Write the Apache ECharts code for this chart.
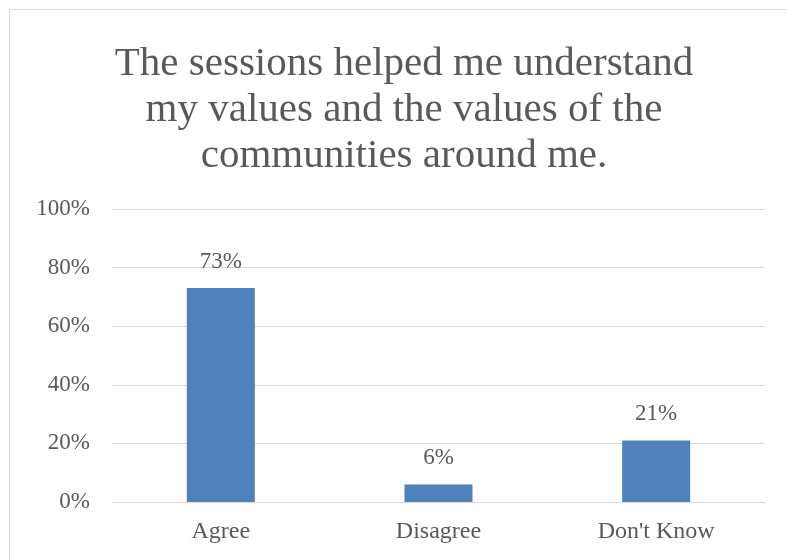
<!DOCTYPE html>
<html>
<head>
<meta charset="utf-8">
<script src="https://cdn.jsdelivr.net/npm/echarts@6/dist/echarts.min.js"></script>
<style>html,body{margin:0;padding:0;background:#fff;}#c{width:787px;height:560px;}</style>
</head>
<body>
<div id="c"></div>
<script>
const titleText = 'The sessions helped me understand\nmy values and the values of the\ncommunities around me.';
const categories = ['Agree', 'Disagree', "Don't Know"];
const values = [73, 6, 21];
const yTicks = [0, 20, 40, 60, 80, 100];

const FONT = 'Liberation Serif';
const TXT = '#595959';
const chart = echarts.init(document.getElementById('c'), null, {renderer: 'canvas'});
chart.setOption({
  animation: false,
  backgroundColor: '#fff',
  graphic: [{
    type: 'rect', left: 7, top: 7, silent: true,
    shape: {x: 0, y: 0, width: 800, height: 600},
    style: {fill: 'none', stroke: '#D9D9D9', lineWidth: 1}
  }],
  title: {
    text: titleText,
    left: 399, textAlign: 'center', top: 36,
    textStyle: {fontFamily: FONT, fontSize: 41, fontWeight: 'normal', color: TXT, lineHeight: 46}
  },
  grid: {left: 112, right: 22, top: 209, bottom: 58, containLabel: false},
  xAxis: {
    type: 'category', data: categories,
    axisLine: {lineStyle: {color: '#D9D9D9', width: 1}},
    axisTick: {show: false},
    axisLabel: {fontFamily: FONT, fontSize: 24, color: TXT, margin: 18}
  },
  yAxis: {
    type: 'value', min: yTicks[0], max: yTicks[yTicks.length - 1], interval: 20,
    axisLine: {show: false}, axisTick: {show: false},
    splitLine: {lineStyle: {color: '#D9D9D9', width: 1}},
    axisLabel: {fontFamily: FONT, fontSize: 23, color: TXT, margin: 22, formatter: v => v + '%'}
  },
  series: [{
    type: 'bar', data: values, barWidth: 68,
    itemStyle: {color: '#4F81BD'},
    label: {show: true, position: 'top', distance: 15, fontFamily: FONT, fontSize: 23, color: TXT, formatter: p => p.value + '%'}
  }]
});
</script>
</body>
</html>
